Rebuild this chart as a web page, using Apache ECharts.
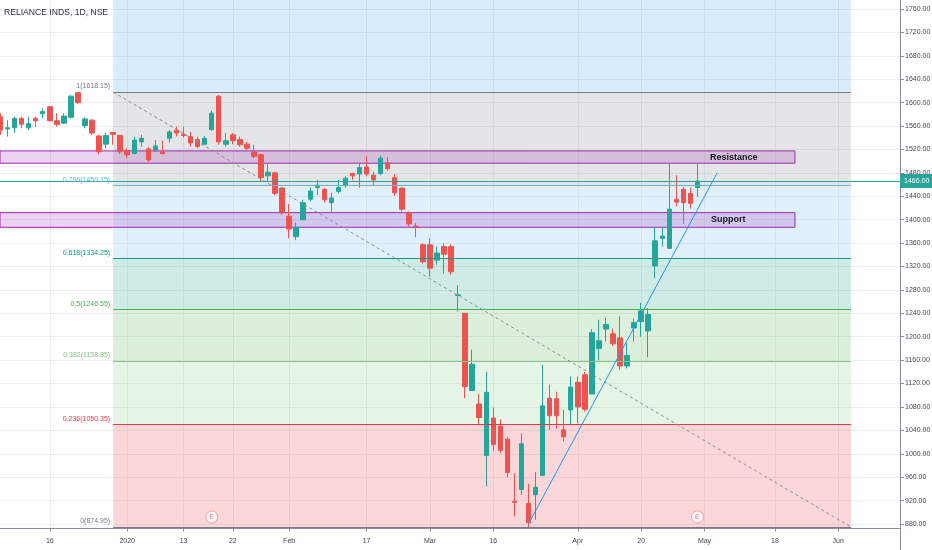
<!DOCTYPE html>
<html><head><meta charset="utf-8">
<script src="https://cdn.jsdelivr.net/npm/echarts@6/dist/echarts.min.js"></script>
<style>html,body{margin:0;padding:0;background:#fff}#c{width:932px;height:550px}</style>
</head><body><div id="c"></div>
<script>
const dates = [
'2019-12-05','2019-12-06','2019-12-09','2019-12-10','2019-12-11','2019-12-12','2019-12-13','2019-12-16','2019-12-17','2019-12-18','2019-12-19','2019-12-20','2019-12-23','2019-12-24','2019-12-26','2019-12-27','2019-12-30','2019-12-31',
'2020-01-01','2020-01-02','2020-01-03','2020-01-06','2020-01-07','2020-01-08','2020-01-09','2020-01-10','2020-01-13','2020-01-14','2020-01-15','2020-01-16','2020-01-17','2020-01-20','2020-01-21','2020-01-22','2020-01-23','2020-01-24','2020-01-27','2020-01-28','2020-01-29','2020-01-30','2020-01-31','2020-02-01',
'2020-02-03','2020-02-04','2020-02-05','2020-02-06','2020-02-07','2020-02-10','2020-02-11','2020-02-12','2020-02-13','2020-02-14','2020-02-17','2020-02-18','2020-02-19','2020-02-20','2020-02-24','2020-02-25','2020-02-26','2020-02-27','2020-02-28',
'2020-03-02','2020-03-03','2020-03-04','2020-03-05','2020-03-06','2020-03-09','2020-03-11','2020-03-12','2020-03-13','2020-03-16','2020-03-17','2020-03-18','2020-03-19','2020-03-20','2020-03-23','2020-03-24','2020-03-25','2020-03-26','2020-03-27','2020-03-30','2020-03-31',
'2020-04-01','2020-04-03','2020-04-07','2020-04-08','2020-04-09','2020-04-13','2020-04-15','2020-04-16','2020-04-17','2020-04-20','2020-04-21','2020-04-22','2020-04-23','2020-04-24','2020-04-27','2020-04-28','2020-04-29','2020-04-30',
'2020-05-04','2020-05-05','2020-05-06','2020-05-07','2020-05-08','2020-05-11','2020-05-12','2020-05-13','2020-05-14','2020-05-15','2020-05-18','2020-05-19','2020-05-20','2020-05-21','2020-05-22','2020-05-26','2020-05-27','2020-05-28','2020-05-29',
'2020-06-01','2020-06-02','2020-06-03','2020-06-04','2020-06-05','2020-06-08','2020-06-09','2020-06-10','2020-06-11'];

const opens  = [1576,1555,1557,1573,1557,1573,1581,1593,1569,1565,1575,1617,1561,1570,1543,1529,1549,1544,1518,1513,
1533,1521,1519,1516,1539,1553,1546,1542,1537,1529,1554,1611,1529,1545,1537,1529,1516,1511,1475,1480,
1454,1406,1371,1400,1435,1455,1452,1429,1448,1458,1479,1478,1490,1476,1479,1497,1472,1454,1411,1389,
1357,1357,1331,1354,1354,1270.5,1240,1108,1085,997,1061,1047,1025,919,939,915,930,963,1095,1094,
1041,1075,1122,1135,1102,1180,1213,1205,1198,1150,1215,1226,1210,1321,1368,1351,1435,1452,1445,1455];
const closes = [1553,1557,1573,1563,1564,1569,1585,1569,1563,1577,1611,1600,1572,1548,1516,1544,1546,1516,1511,1536,
1539,1502,1526,1513,1550,1548,1544,1531,1525,1539,1582,1533,1535,1535,1528,1522,1508,1472,1481,1445,
1412,1384,1387,1429,1449,1459,1434,1437,1455,1471,1475,1489,1478,1468,1505,1487,1446,1418,1393,1388,
1328,1317,1343,1341,1311,1271.5,1115,1153,1062,1105,1016,1006,968,917,1017,882,943,1082,1065,1065,
1029,1114,1080,1076,1207,1193,1221,1188,1150,1168,1224,1244,1238,1364,1372,1418,1430,1429,1428,1466];
const lows   = [1545,1542,1548,1556,1553,1559,1573,1568,1559,1564,1573,1598,1556,1545,1512,1522,1528,1512,1505,1512,
1525,1499,1516,1511,1532,1542,1540,1525,1522,1528,1552,1528,1525,1529,1525,1519,1505,1465,1465,1442,
1408,1368,1365,1399,1431,1442,1429,1411,1445,1455,1468,1455,1474,1459,1476,1484,1441,1414,1388,1370,
1325,1303,1323,1308,1306,1243,1095,1108,1049,944,1005,1001,960,893,930,874.95,887,963,1041,1043,
1021,1049,1052,1072,1102,1160,1192,1184,1143,1146,1192,1200,1165,1300,1354,1351,1423,1393,1419,1439];
const highs  = [1582,1570,1576,1576,1576,1576,1590,1594,1582,1582,1613,1618.15,1575,1572,1545,1548,1549,1545,1522,1542,
1545,1524,1536,1535,1553,1559,1559,1550,1542,1543,1586,1613,1548,1548,1542,1533,1528,1513,1495,1482,
1456,1427,1395,1434,1455,1468,1454,1446,1468,1474,1480,1496,1509,1482,1509,1507,1478,1456,1414,1394,
1360,1368,1354,1360,1358,1288,1240,1178,1102,1140,1079,1059,1028,967,1035,949,969,1152,1118,1106,
1075,1132,1132,1140,1213,1229,1233,1214,1235,1189,1231,1258,1249,1387,1387,1497,1476,1456,1455,1497];

const tickDates  = ['2019-12-16','2020-01-01','2020-01-13','2020-01-22','2020-02-01','2020-02-17','2020-03-02','2020-03-16','2020-04-01','2020-04-20','2020-05-04','2020-05-18','2020-06-01'];
const tickLabels = ['16','2020','13','22','Feb','17','Mar','16','Apr','20','May','18','Jun'];
const priceTicks = [880,920,960,1000,1040,1080,1120,1160,1200,1240,1280,1320,1360,1400,1440,1480,1520,1560,1600,1640,1680,1720,1760];

const fibRatios = ['1','0.786','0.618','0.5','0.382','0.236','0'];
const fibPrices = [1618.15,1459.15,1334.25,1246.55,1158.85,1050.35,874.95];
const fibStartDate = '2019-12-30';
const fibEndPos = 120.8;

const zones = [
  {name: 'Resistance', top: 1517.5, bottom: 1496.5},
  {name: 'Support', top: 1412, bottom: 1387}
];
const zoneEndPos = 112.85;
const trendStart = ['2020-03-23', 880];
const trendEnd = [101.8, 1480];
const earningsDates = ['2020-01-17', '2020-04-30'];
const eventLevel = 892;

const xMin = -0.071, xMax = 127.77, yMin = 872.3, yMax = 1775.4;
const FONT = '"Liberation Sans", Arial, sans-serif';
const AXIS_C = '#8a8d96', GRID_C = '#eceef2', TXT_C = '#434651';
const UP = '#26a69a', DOWN = '#ef5350';
const FS = 7;

const idx = d => dates.indexOf(d);
const tickIdx = tickDates.map(idx);
const candles = opens.map((o, i) => [i, o, closes[i], lows[i], highs[i]]);
const lastClose = closes[closes.length - 1];
const fibStart = idx(fibStartDate);

const fibLineColors = ['#787b86','#64b5f6','#089981','#4caf50','#81c784','#f23645','#787b86'];
const fibZoneColors = ['rgba(33,150,243,0.18)','rgba(120,123,134,0.2)','rgba(100,181,246,0.2)','rgba(8,153,129,0.2)','rgba(76,175,80,0.2)','rgba(129,199,132,0.2)','rgba(242,54,69,0.2)'];
const zoneBounds = [yMax].concat(fibPrices);
const fibAreas = [];
for (let k = 0; k < fibPrices.length; k++) {
  fibAreas.push([{xAxis: fibStart, yAxis: zoneBounds[k], itemStyle: {color: fibZoneColors[k]}}, {xAxis: fibEndPos, yAxis: zoneBounds[k + 1]}]);
}
const fibLines = fibPrices.map((p, k) => [
  {coord: [fibStart, p], lineStyle: {color: fibLineColors[k], width: 1, type: 'solid'},
   label: {show: true, position: 'start', distance: 3, verticalAlign: 'bottom', formatter: fibRatios[k] + '(' + p.toFixed(2) + ')', color: fibLineColors[k], fontSize: FS, fontFamily: FONT, padding: [0, 0, 2, 0]}},
  {coord: [fibEndPos, p]}
]);
fibLines.push([
  {coord: [fibStart, fibPrices[0]], lineStyle: {color: '#8a8d96', width: 1, type: [3, 3]}, label: {show: false}},
  {coord: [fibEndPos, fibPrices[fibPrices.length - 1]]}
]);

const boxAreas = zones.map((z, k) => [
  {xAxis: xMin, yAxis: z.top, label: {show: true, position: 'insideRight', distance: k === 0 ? 38 : 50, formatter: z.name, color: '#131722', fontWeight: 'bold', fontSize: 9, fontFamily: FONT}},
  {xAxis: zoneEndPos, yAxis: z.bottom}
]);

const chart = echarts.init(document.getElementById('c'), null, {renderer: 'canvas'});
chart.setOption({
  animation: false,
  backgroundColor: '#fff',
  title: {text: 'RELIANCE INDS, 1D, NSE', left: 4, top: 8, padding: 0, textStyle: {fontSize: 8.6, fontWeight: 'normal', color: '#2a2e39', fontFamily: FONT}},
  grid: {left: 0, right: 32, top: 0, bottom: 21.5, containLabel: false, outerBoundsMode: 'none'},
  graphic: [{type: 'line', silent: true, shape: {x1: 900.5, y1: 528, x2: 900.5, y2: 550}, style: {stroke: AXIS_C, lineWidth: 1}}],
  xAxis: {
    type: 'value', min: xMin, max: xMax,
    axisLine: {show: true, onZero: false, lineStyle: {color: AXIS_C}},
    axisTick: {show: true, customValues: tickIdx, length: 3, lineStyle: {color: AXIS_C}},
    axisLabel: {customValues: tickIdx, formatter: v => tickLabels[tickIdx.indexOf(v)], margin: 9, fontSize: FS, color: TXT_C, fontFamily: FONT},
    splitLine: {show: true, lineStyle: {color: GRID_C, width: 1}}
  },
  yAxis: {
    type: 'value', position: 'right', min: yMin, max: yMax,
    axisLine: {show: true, onZero: false, lineStyle: {color: AXIS_C}},
    axisTick: {show: true, customValues: priceTicks, length: 4, lineStyle: {color: AXIS_C}},
    axisLabel: {customValues: priceTicks, formatter: v => v.toFixed(2), margin: 5, fontSize: FS, color: TXT_C, fontFamily: FONT},
    splitLine: {show: true, lineStyle: {color: GRID_C, width: 1}}
  },
  series: [
    {
      name: 'fib', type: 'line', data: [], silent: true,
      markArea: {silent: true, data: fibAreas},
      markLine: {silent: true, symbol: ['none', 'none'], animation: false, data: fibLines}
    },
    {
      name: 'zones', type: 'line', data: [], silent: true,
      markArea: {silent: true, itemStyle: {color: 'rgba(156,39,176,0.2)', borderColor: '#9c27b0', borderWidth: 1}, data: boxAreas}
    },
    {
      name: 'RELIANCE', type: 'candlestick', silent: true, barWidth: 5,
      encode: {x: 0, y: [1, 2, 3, 4]},
      data: candles,
      itemStyle: {color: UP, color0: DOWN, borderColor: UP, borderColor0: DOWN, borderColorDoji: UP, borderWidth: 1},
      markLine: {
        silent: true, symbol: ['none', 'none'],
        data: [
          {yAxis: lastClose, lineStyle: {color: UP, width: 1, type: 'solid'},
           label: {show: true, position: 'end', distance: 0, formatter: lastClose.toFixed(2), color: '#fff', backgroundColor: UP, padding: [4, 4, 3, 4], fontSize: FS, fontFamily: FONT}},
          [{coord: [idx(trendStart[0]), trendStart[1]], lineStyle: {color: '#2196f3', width: 1, type: 'solid'}, label: {show: false}}, {coord: trendEnd}]
        ]
      }
    },
    {
      name: 'earnings', type: 'scatter', silent: true, symbol: 'circle', symbolSize: 12, z: 6,
      data: earningsDates.map(d => [idx(d), eventLevel]),
      itemStyle: {color: '#fff', borderColor: '#ef8a90', borderWidth: 1},
      label: {show: true, position: 'inside', formatter: 'E', color: '#e0555f', fontSize: FS, fontFamily: FONT}
    }
  ]
});
</script>
</body></html>
